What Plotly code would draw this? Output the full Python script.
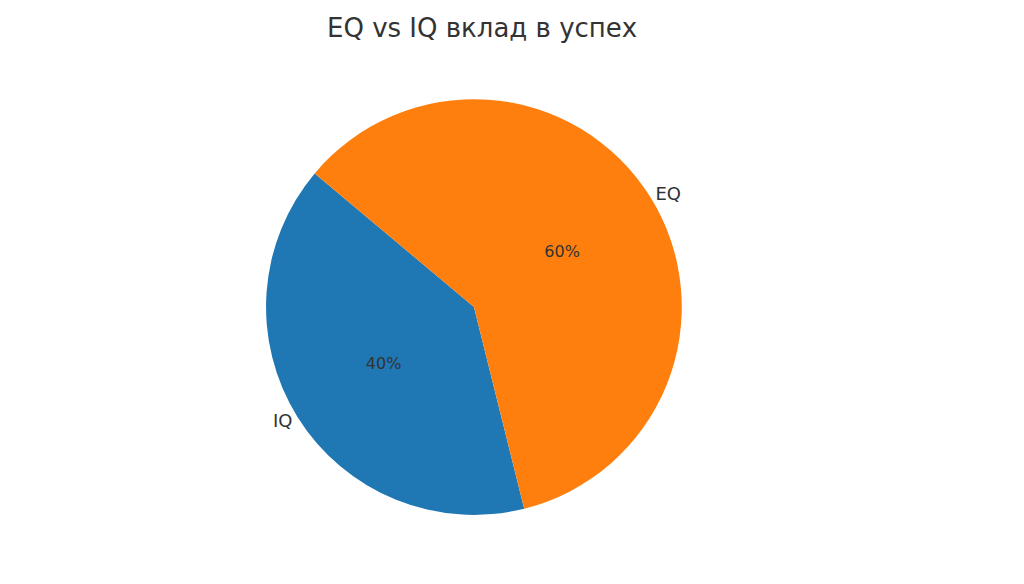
import plotly.graph_objects as go

labels = ['IQ', 'EQ']
values = [40, 60]
colors = ['#1f77b4', '#ff7f0e']

dom = dict(x=[0.252, 0.658], y=[0.132, 0.844])

fig = go.Figure()

# wedges with percentages inside
fig.add_trace(go.Pie(labels=labels, values=values, sort=False, direction='counterclockwise',
                     rotation=166, marker=dict(colors=colors),
                     texttemplate='%{percent:.0%}', textposition='inside',
                     insidetextorientation='horizontal',
                     textfont=dict(family='DejaVu Sans', size=16, color='#333333'),
                     domain=dom, showlegend=False, hoverinfo='label+percent'))

# same pie again, transparent, for the outside labels
fig.add_trace(go.Pie(labels=labels, values=values, sort=False, direction='counterclockwise',
                     rotation=166, marker=dict(colors=['rgba(0,0,0,0)'] * 2),
                     texttemplate='%{label}', textposition='outside',
                     textfont=dict(family='DejaVu Sans', size=18, color='#333333'),
                     domain=dom, showlegend=False, hoverinfo='skip'))

fig.update_layout(title=dict(text='EQ vs IQ вклад в успех', x=0.463, xanchor='center',
                             y=0.966, yanchor='middle',
                             font=dict(family='DejaVu Sans', size=26, color='#333333')),
                  width=1024, height=584, margin=dict(l=0, r=0, t=0, b=0),
                  paper_bgcolor='white', plot_bgcolor='white')

fig.write_html("out.html")
